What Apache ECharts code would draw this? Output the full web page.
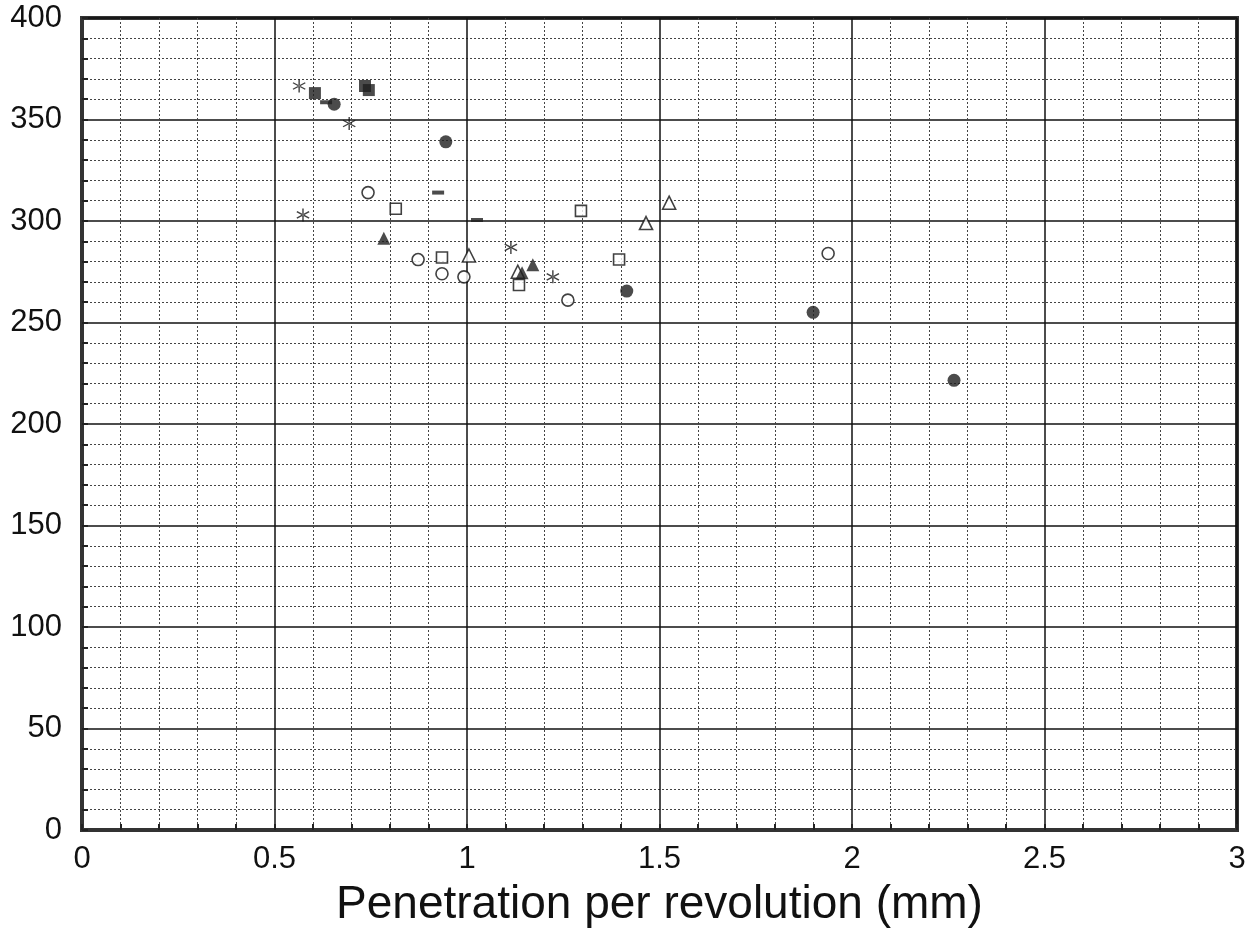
<!DOCTYPE html>
<html>
<head>
<meta charset="utf-8">
<script src="https://cdn.jsdelivr.net/npm/echarts@6/dist/echarts.min.js"></script>
<style>
  html, body { margin: 0; padding: 0; background: #fff; }
  #main { width: 1254px; height: 934px; }
</style>
</head>
<body>
<div id="main"></div>
<script>
// data: [penetration per revolution (mm), value]
var stars = [[0.564, 366.5], [0.574, 303], [0.694, 348], [1.114, 287], [1.223, 272.5]];
var filledSquares = [[0.605, 363], [0.735, 366.5], [0.745, 364.5]];
var filledCircles = [[0.655, 357.5], [0.945, 339], [1.415, 265.5], [1.899, 255], [2.265, 221.5]];
var dashes = [[0.634, 358.5], [0.925, 314], [1.026, 300.5]];
var openCircles = [[0.743, 314], [0.873, 281], [0.935, 274], [0.992, 272.5], [1.262, 261], [1.938, 284]];
var openSquares = [[0.815, 306], [0.935, 282], [1.135, 268.5], [1.296, 305], [1.395, 281]];
var openTriangles = [[1.005, 283], [1.132, 275], [1.465, 299], [1.525, 309]];
var filledTriangles = [[0.784, 291.5], [1.143, 274.5], [1.171, 278.5]];

var xTicks = [0, 0.5, 1, 1.5, 2, 2.5, 3];
var yTicks = [0, 50, 100, 150, 200, 250, 300, 350, 400];

var ink = '#111';
var asterisk = 'path://M-0.6 -6L0.6 -6L0.6 6L-0.6 6Z' +
  'M4.896 3.52L5.496 2.48L-4.896 -3.52L-5.496 -2.48Z' +
  'M-5.496 2.48L-4.896 3.52L5.496 -2.48L4.896 -3.52Z';

function openMark(name, symbol, size, data) {
  return {
    name: name, type: 'scatter', symbol: symbol, symbolSize: size, data: data,
    itemStyle: { color: '#fff', borderColor: ink, borderWidth: 1.6 }
  };
}
function filledMark(name, symbol, size, data) {
  return {
    name: name, type: 'scatter', symbol: symbol, symbolSize: size, data: data,
    itemStyle: { color: '#1e1e1e' }
  };
}

var myChart = echarts.init(document.getElementById('main'));
var option = {
  backgroundColor: '#fff',
  animation: false,
  grid: {
    left: 82, right: 17, top: 18, bottom: 104,
    show: true, borderWidth: 4, borderColor: '#333'
  },
  xAxis: {
    type: 'value', min: 0, max: 3, interval: 0.5,
    name: 'Penetration per revolution (mm)',
    nameLocation: 'middle', nameGap: 52,
    nameTextStyle: { fontFamily: 'Liberation Sans', fontSize: 46, color: '#111' },
    axisLine: { show: true, lineStyle: { color: '#333', width: 4 } },
    axisTick: { show: true, inside: true, length: 6, lineStyle: { color: '#222', width: 2 } },
    minorTick: { show: true, splitNumber: 5, length: 6, lineStyle: { color: '#222', width: 2 } },
    axisLabel: {
      margin: 14, fontFamily: 'Liberation Sans', fontSize: 31, color: '#111',
      formatter: function (v) { return xTicks.indexOf(v) >= 0 ? String(v) : ''; }
    },
    splitLine: { show: true, lineStyle: { color: '#111', width: 1.5 } },
    minorSplitLine: { show: true, lineStyle: { color: '#444', width: 1, type: [2, 2] } }
  },
  yAxis: {
    type: 'value', min: 0, max: 400, interval: 50,
    axisLine: { show: true, lineStyle: { color: '#333', width: 4 } },
    axisTick: { show: true, inside: true, length: 6, lineStyle: { color: '#222', width: 2 } },
    minorTick: { show: true, splitNumber: 5, length: 6, lineStyle: { color: '#222', width: 2 } },
    axisLabel: {
      margin: 20, fontFamily: 'Liberation Sans', fontSize: 31, color: '#111',
      formatter: function (v) { return yTicks.indexOf(v) >= 0 ? String(v) : ''; }
    },
    splitLine: { show: true, lineStyle: { color: '#111', width: 1.5 } },
    minorSplitLine: { show: true, lineStyle: { color: '#444', width: 1, type: [2, 2] } }
  },
  series: [
    openMark('open circles', 'circle', 12, openCircles),
    openMark('open squares', 'rect', 11, openSquares),
    openMark('open triangles', 'triangle', 13, openTriangles),
    filledMark('filled triangles', 'triangle', 13, filledTriangles),
    filledMark('dashes', 'rect', [12, 4], dashes),
    filledMark('filled circles', 'circle', 13, filledCircles),
    filledMark('filled squares', 'rect', 12, filledSquares),
    {
      name: 'stars', type: 'scatter', symbol: asterisk, symbolSize: 13, data: stars,
      itemStyle: { color: ink }
    }
  ]
};
myChart.setOption(option);
</script>
</body>
</html>
